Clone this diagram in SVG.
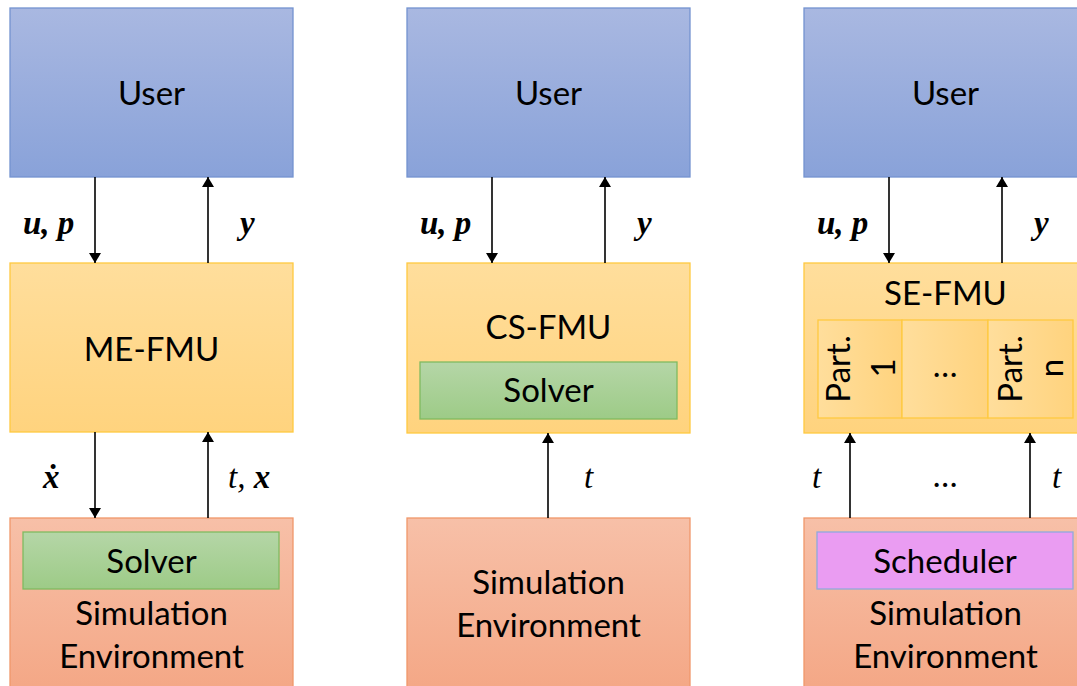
<svg xmlns="http://www.w3.org/2000/svg" width="1077" height="686" viewBox="0 0 1077 686">
<defs>
<linearGradient id="gUser" x1="0" y1="0" x2="0" y2="1"><stop offset="0" stop-color="#A9B8E1"/><stop offset="1" stop-color="#89A2D9"/></linearGradient>
<linearGradient id="gFmu" x1="0" y1="0" x2="0" y2="1"><stop offset="0" stop-color="#FFDE9C"/><stop offset="1" stop-color="#FFD37E"/></linearGradient>
<linearGradient id="gPart" x1="0" y1="0" x2="1" y2="0"><stop offset="0" stop-color="#FFDE9C"/><stop offset="1" stop-color="#FFD37E"/></linearGradient>
<linearGradient id="gEnv" x1="0" y1="0" x2="0" y2="1"><stop offset="0" stop-color="#F7C0A8"/><stop offset="1" stop-color="#F4A684"/></linearGradient>
<linearGradient id="gSolver" x1="0" y1="0" x2="0" y2="1"><stop offset="0" stop-color="#B5D6A7"/><stop offset="1" stop-color="#9DCB87"/></linearGradient>
<marker id="ah" viewBox="0 0 10 12" refX="10" refY="6" markerWidth="10" markerHeight="12" markerUnits="userSpaceOnUse" orient="auto"><path d="M0,0 L10,6 L0,12 Z" fill="#000"/></marker>
</defs>
<style>
.user{fill:url(#gUser);stroke:#7393D0;stroke-width:1.3}
.fmu{fill:url(#gFmu);stroke:#FFC940;stroke-width:1.3}
.part{fill:url(#gPart);stroke:#FFC940;stroke-width:1.3}
.env{fill:url(#gEnv);stroke:#F0976A;stroke-width:1.3}
.solver{fill:url(#gSolver);stroke:#80BA60;stroke-width:1.3}
.sched{fill:#EA9CF2;stroke:#8FAADC;stroke-width:1.3}
.t{font-family:Lato,"Open Sans",sans-serif;font-size:33px;fill:#000;text-anchor:middle}
.m{font-family:"Liberation Serif","DejaVu Serif",serif;font-size:33px;font-style:italic;fill:#000}
.b{font-weight:bold}
.c{stroke:#000;stroke-width:1.6;fill:none;marker-end:url(#ah)}
</style>

<g id="user1"><rect class="user" x="10" y="8" width="283" height="169"/><text class="t" x="151.5" y="105">User</text></g>
<g id="user2"><rect class="user" x="407" y="8" width="283" height="169"/><text class="t" x="548.5" y="105">User</text></g>
<g id="user3"><rect class="user" x="804" y="8" width="283" height="169"/><text class="t" x="945.5" y="105">User</text></g>

<g id="me-fmu"><rect class="fmu" x="10" y="263" width="283" height="169"/><text class="t" x="151.5" y="361">ME-FMU</text></g>
<g id="cs-fmu"><rect class="fmu" x="407" y="263" width="283" height="170"/><text class="t" x="548.5" y="339">CS-FMU</text>
<g id="cs-solver"><rect class="solver" x="420" y="362" width="257" height="57"/><text class="t" x="548.5" y="402">Solver</text></g></g>
<g id="se-fmu"><rect class="fmu" x="804" y="263" width="283" height="170"/><text class="t" x="945.5" y="305">SE-FMU</text>
<g id="part1"><rect class="part" x="818" y="320" width="84" height="98"/><text class="t" transform="translate(850,369) rotate(-90)">Part.</text><text class="t" transform="translate(895,368) rotate(-90)">1</text></g>
<g id="partdots"><rect class="part" x="902" y="320" width="86" height="98"/><text class="t" x="945" y="377">…</text></g>
<g id="partn"><rect class="part" x="988" y="320" width="85" height="98"/><text class="t" transform="translate(1022,369) rotate(-90)">Part.</text><text class="t" transform="translate(1063,368) rotate(-90)">n</text></g></g>

<g id="env1"><rect class="env" x="10" y="518" width="283" height="180"/>
<g id="me-solver"><rect class="solver" x="23" y="532" width="256" height="57"/><text class="t" x="151.5" y="573">Solver</text></g>
<text class="t" x="151.5" y="625">Simulation</text><text class="t" x="151.5" y="668">Environment</text></g>
<g id="env2"><rect class="env" x="407" y="518" width="283" height="180"/>
<text class="t" x="548.5" y="594">Simulation</text><text class="t" x="548.5" y="637">Environment</text></g>
<g id="env3"><rect class="env" x="804" y="518" width="283" height="180"/>
<g id="scheduler"><rect class="sched" x="817" y="532" width="256" height="57"/><text class="t" x="945" y="573">Scheduler</text></g>
<text class="t" x="945.5" y="625">Simulation</text><text class="t" x="945.5" y="668">Environment</text></g>

<g id="connectors">
<line class="c" x1="95" y1="177" x2="95" y2="263"/>
<line class="c" x1="208" y1="263" x2="208" y2="177"/>
<line class="c" x1="95" y1="432" x2="95" y2="518"/>
<line class="c" x1="208" y1="518" x2="208" y2="432"/>
<line class="c" x1="492" y1="177" x2="492" y2="263"/>
<line class="c" x1="605" y1="263" x2="605" y2="177"/>
<line class="c" x1="548" y1="518" x2="548" y2="433"/>
<line class="c" x1="889" y1="177" x2="889" y2="263"/>
<line class="c" x1="1002" y1="263" x2="1002" y2="177"/>
<line class="c" x1="850" y1="518" x2="850" y2="433"/>
<line class="c" x1="1030" y1="518" x2="1030" y2="433"/>
</g>

<g id="labels">
<text class="m b" x="23" y="234">u, p</text>
<text class="m b" x="240" y="234">y</text>
<text class="m b" x="43" y="488">ẋ</text>
<text class="m" x="228" y="488">t, <tspan class="b">x</tspan></text>
<text class="m b" x="420" y="234">u, p</text>
<text class="m b" x="637" y="234">y</text>
<text class="m" x="584" y="488">t</text>
<text class="m b" x="817" y="234">u, p</text>
<text class="m b" x="1034" y="234">y</text>
<text class="m" x="812" y="488">t</text>
<text class="t" x="945" y="487">…</text>
<text class="m" x="1052" y="488">t</text>
</g>
</svg>
